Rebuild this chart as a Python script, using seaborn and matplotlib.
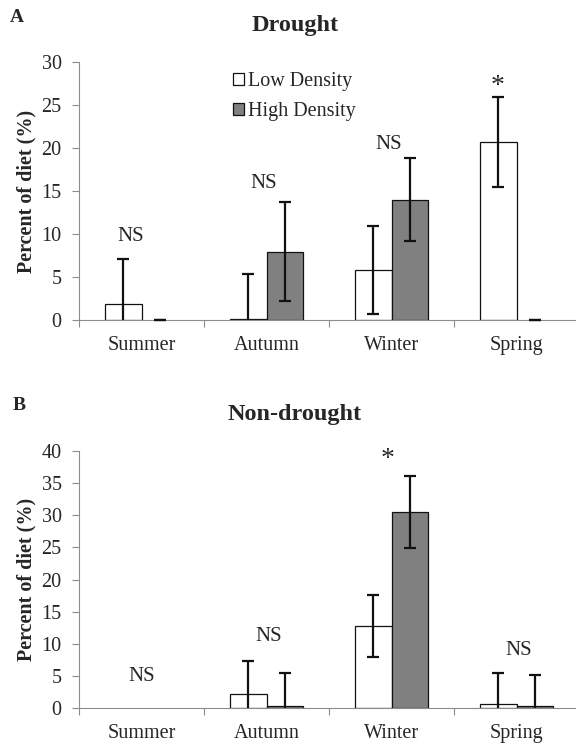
import numpy as np
import pandas as pd
import matplotlib.pyplot as plt
import seaborn as sns

# 季节与密度组
seasons = ['Summer', 'Autumn', 'Winter', 'Spring']
levels = ['Low Density', 'High Density']

# A: Drought
drought_low = [1.9, 0.1, 5.8, 20.7]
drought_low_err = [5.2, 5.2, 5.15, 5.2]
drought_high = [0.0, 7.95, 14.0, 0.0]
drought_high_err = [0.0, 5.75, 4.85, 0.0]
drought_marks = ['NS', 'NS', 'NS', '*']
drought_mark_y = [9.7, 15.9, 20.35, 27.2]
drought_mark_dx = [-0.09, -0.02, -0.02, -0.15]

# B: Non-drought
nondrought_low = [np.nan, 2.2, 12.8, 0.65]
nondrought_low_err = [np.nan, 5.2, 4.75, 4.85]
nondrought_high = [np.nan, 0.4, 30.5, 0.35]
nondrought_high_err = [np.nan, 5.15, 5.65, 4.75]
nondrought_marks = ['NS', 'NS', '*', 'NS']
nondrought_mark_y = [5.0, 11.1, 38.7, 8.96]
nondrought_mark_dx = [0.0, 0.02, -0.03, 0.02]

sns.set_style('ticks')
plt.rcParams['font.family'] = ['Liberation Serif', 'DejaVu Serif']

GRAY = '#8c8c8c'
BAR_W = 0.59
FS = 14.5
palette = {'Low Density': 'white', 'High Density': '#808080'}


def draw_panel(ax, low, low_err, high, high_err, marks, mark_y, mark_dx, ymax, legend):
    df = pd.DataFrame({
        'season': seasons * 2,
        'density': [levels[0]] * 4 + [levels[1]] * 4,
        'value': list(low) + list(high),
    })
    # 数值为0或缺失的柱子不画
    df = df[df.value > 0]
    sns.barplot(data=df, x='season', y='value', hue='density',
                order=seasons, hue_order=levels, palette=palette,
                edgecolor='#111111', linewidth=0.9, width=BAR_W,
                errorbar=None, legend=legend, ax=ax)

    # 误差线
    for k, (vals, errs) in enumerate([(low, low_err), (high, high_err)]):
        vals = np.array(vals, dtype=float)
        errs = np.array(errs, dtype=float)
        xs = np.arange(len(seasons)) + (k - 0.5) * BAR_W / 2
        ok = errs > 0
        ax.errorbar(xs[ok], vals[ok], yerr=errs[ok], fmt='none', ecolor='#111111',
                    elinewidth=1.6, capsize=4, capthick=1.6, zorder=3)
        zero = errs == 0
        if zero.any():
            ax.errorbar(xs[zero], vals[zero], yerr=errs[zero], fmt='none', ecolor='#111111',
                        elinewidth=1.6, capsize=4, capthick=1.6, zorder=3, clip_on=False)

    # 显著性标注
    for i, (m, y, dx) in enumerate(zip(marks, mark_y, mark_dx)):
        ax.text(i + dx, y, m, ha='center', va='center',
                fontsize=20 if m == '*' else 15)

    ax.set_xlim(-0.5, 3.5)
    ax.set_ylim(0, ymax)
    ax.set_yticks(np.arange(0, ymax + 1, 5))
    ax.set_xticks(np.arange(-0.5, 4, 1))
    ax.set_xticklabels([])
    ax.set_xticks(np.arange(len(seasons)), minor=True)
    ax.set_xticklabels(seasons, minor=True, fontsize=FS)
    ax.tick_params(axis='x', which='major', length=5, width=0.8, color=GRAY, direction='out')
    ax.tick_params(axis='x', which='minor', length=0, pad=11.5)
    ax.tick_params(axis='y', length=5, width=0.8, color=GRAY, labelsize=FS, pad=7.5)
    sns.despine(ax=ax)
    for s in ['left', 'bottom']:
        ax.spines[s].set_color(GRAY)
        ax.spines[s].set_linewidth(0.8)
    ax.set_xlabel('')
    ax.set_ylabel('Percent of diet (%)', fontsize=14.5, fontweight='bold')
    ax.yaxis.set_label_coords(-0.086, 0.5)


fig = plt.figure(figsize=(5.76, 7.44), dpi=100)
ax1 = fig.add_axes([79 / 576, 424 / 744, 500 / 576, 258 / 744])
ax2 = fig.add_axes([79 / 576, 35.7 / 744, 500 / 576, 257.3 / 744])

draw_panel(ax1, drought_low, drought_low_err, drought_high, drought_high_err,
           drought_marks, drought_mark_y, drought_mark_dx, 30, True)
draw_panel(ax2, nondrought_low, nondrought_low_err, nondrought_high, nondrought_high_err,
           nondrought_marks, nondrought_mark_y, nondrought_mark_dx, 40, False)

# 图例
sns.move_legend(ax1, 'upper left', bbox_to_anchor=(233 / 576, 1 - 72 / 744),
                bbox_transform=fig.transFigure, frameon=False, title=None,
                fontsize=FS, handlelength=0.55, handleheight=0.55,
                handletextpad=0.2, labelspacing=0.57, borderpad=0, borderaxespad=0)

# 标题与面板标记
fig.text(295 / 576, 1 - 26 / 744, 'Drought', ha='center', va='center', fontsize=17.5, fontweight='bold')
fig.text(295 / 576, 1 - 415 / 744, 'Non-drought', ha='center', va='center', fontsize=17.5, fontweight='bold')
fig.text(17 / 576, 1 - 17 / 744, 'A', ha='center', va='center', fontsize=14, fontweight='bold')
fig.text(19 / 576, 1 - 406 / 744, 'B', ha='center', va='center', fontsize=14, fontweight='bold')

fig.savefig('out.png', dpi=100)
